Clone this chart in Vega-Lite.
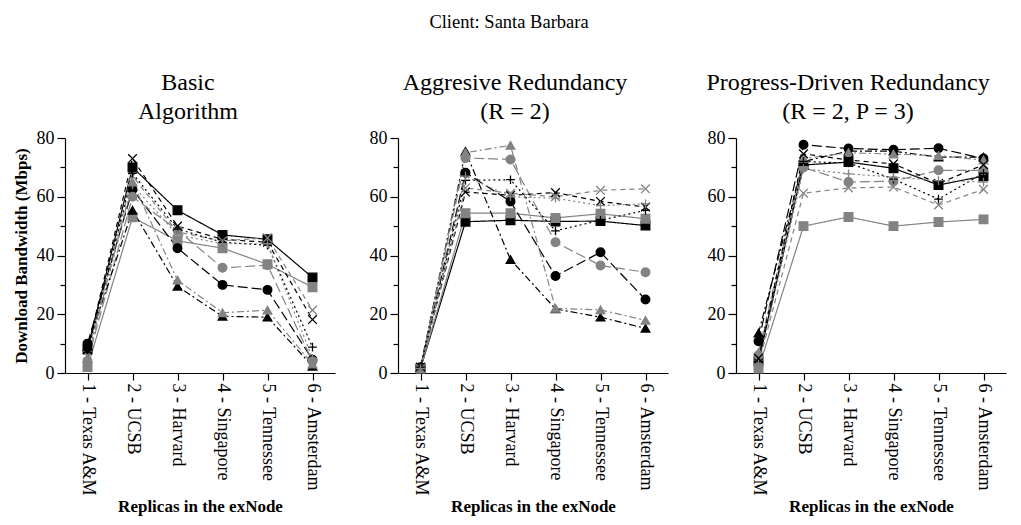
{
"$schema":"https://vega.github.io/schema/vega-lite/v6.json",
"padding":{"left":12,"top":12,"right":5,"bottom":5},
"title":{"text":"Client: Santa Barbara","fontSize":18.5,"font":"Liberation Serif","fontWeight":"normal","anchor":"middle","offset":40,"color":"black"},
"config":{"view":{"stroke":null},"axis":{"domainColor":"black","tickColor":"black","labelColor":"black","titleColor":"black","labelFont":"Liberation Serif","titleFont":"Liberation Serif","grid":false,"domainWidth":1.2,"tickWidth":1.2},"title":{"font":"Liberation Serif","color":"black"}},
"data":{"values":[
{"p":"A","s":"bsq","x":"1 - Texas A&M","y":8},{"p":"A","s":"bsq","x":"2 - UCSB","y":70},{"p":"A","s":"bsq","x":"3 - Harvard","y":55.4},{"p":"A","s":"bsq","x":"4 - Singapore","y":47},{"p":"A","s":"bsq","x":"5 - Tennessee","y":45.5},{"p":"A","s":"bsq","x":"6 - Amsterdam","y":32.5},
{"p":"A","s":"gsq","x":"1 - Texas A&M","y":2},{"p":"A","s":"gsq","x":"2 - UCSB","y":53},{"p":"A","s":"gsq","x":"3 - Harvard","y":45},{"p":"A","s":"gsq","x":"4 - Singapore","y":42.5},{"p":"A","s":"gsq","x":"5 - Tennessee","y":37},{"p":"A","s":"gsq","x":"6 - Amsterdam","y":29.2},
{"p":"A","s":"bci","x":"1 - Texas A&M","y":10},{"p":"A","s":"bci","x":"2 - UCSB","y":62.5},{"p":"A","s":"bci","x":"3 - Harvard","y":42.5},{"p":"A","s":"bci","x":"4 - Singapore","y":30},{"p":"A","s":"bci","x":"5 - Tennessee","y":28.3},{"p":"A","s":"bci","x":"6 - Amsterdam","y":4.5},
{"p":"A","s":"gci","x":"1 - Texas A&M","y":4},{"p":"A","s":"gci","x":"2 - UCSB","y":60},{"p":"A","s":"gci","x":"3 - Harvard","y":48.6},{"p":"A","s":"gci","x":"4 - Singapore","y":35.8},{"p":"A","s":"gci","x":"5 - Tennessee","y":36.7},{"p":"A","s":"gci","x":"6 - Amsterdam","y":4},
{"p":"A","s":"btr","x":"1 - Texas A&M","y":9},{"p":"A","s":"btr","x":"2 - UCSB","y":55.4},{"p":"A","s":"btr","x":"3 - Harvard","y":29.5},{"p":"A","s":"btr","x":"4 - Singapore","y":19.3},{"p":"A","s":"btr","x":"5 - Tennessee","y":19},{"p":"A","s":"btr","x":"6 - Amsterdam","y":2.3},
{"p":"A","s":"gtr","x":"1 - Texas A&M","y":5},{"p":"A","s":"gtr","x":"2 - UCSB","y":65},{"p":"A","s":"gtr","x":"3 - Harvard","y":31.6},{"p":"A","s":"gtr","x":"4 - Singapore","y":20.5},{"p":"A","s":"gtr","x":"5 - Tennessee","y":21.4},{"p":"A","s":"gtr","x":"6 - Amsterdam","y":3},
{"p":"A","s":"bx","x":"1 - Texas A&M","y":8},{"p":"A","s":"bx","x":"2 - UCSB","y":73},{"p":"A","s":"bx","x":"3 - Harvard","y":50},{"p":"A","s":"bx","x":"4 - Singapore","y":45.5},{"p":"A","s":"bx","x":"5 - Tennessee","y":44.5},{"p":"A","s":"bx","x":"6 - Amsterdam","y":18.2},
{"p":"A","s":"gx","x":"1 - Texas A&M","y":6},{"p":"A","s":"gx","x":"2 - UCSB","y":67},{"p":"A","s":"gx","x":"3 - Harvard","y":48},{"p":"A","s":"gx","x":"4 - Singapore","y":45},{"p":"A","s":"gx","x":"5 - Tennessee","y":46},{"p":"A","s":"gx","x":"6 - Amsterdam","y":21.4},
{"p":"A","s":"bp","x":"1 - Texas A&M","y":7},{"p":"A","s":"bp","x":"2 - UCSB","y":68},{"p":"A","s":"bp","x":"3 - Harvard","y":49},{"p":"A","s":"bp","x":"4 - Singapore","y":44.5},{"p":"A","s":"bp","x":"5 - Tennessee","y":43.5},{"p":"A","s":"bp","x":"6 - Amsterdam","y":8.8},
{"p":"A","s":"gp","x":"1 - Texas A&M","y":5},{"p":"A","s":"gp","x":"2 - UCSB","y":64},{"p":"A","s":"gp","x":"3 - Harvard","y":47},{"p":"A","s":"gp","x":"4 - Singapore","y":44},{"p":"A","s":"gp","x":"5 - Tennessee","y":44},{"p":"A","s":"gp","x":"6 - Amsterdam","y":5},
{"p":"B","s":"bsq","x":"1 - Texas A&M","y":1.5},{"p":"B","s":"bsq","x":"2 - UCSB","y":51.5},{"p":"B","s":"bsq","x":"3 - Harvard","y":52},{"p":"B","s":"bsq","x":"4 - Singapore","y":51.6},{"p":"B","s":"bsq","x":"5 - Tennessee","y":51.7},{"p":"B","s":"bsq","x":"6 - Amsterdam","y":50.2},
{"p":"B","s":"gsq","x":"1 - Texas A&M","y":1.5},{"p":"B","s":"gsq","x":"2 - UCSB","y":54.4},{"p":"B","s":"gsq","x":"3 - Harvard","y":54.4},{"p":"B","s":"gsq","x":"4 - Singapore","y":52.8},{"p":"B","s":"gsq","x":"5 - Tennessee","y":54.2},{"p":"B","s":"gsq","x":"6 - Amsterdam","y":52.5},
{"p":"B","s":"bci","x":"1 - Texas A&M","y":2},{"p":"B","s":"bci","x":"2 - UCSB","y":68.2},{"p":"B","s":"bci","x":"3 - Harvard","y":58.4},{"p":"B","s":"bci","x":"4 - Singapore","y":33},{"p":"B","s":"bci","x":"5 - Tennessee","y":41.1},{"p":"B","s":"bci","x":"6 - Amsterdam","y":25},
{"p":"B","s":"gci","x":"1 - Texas A&M","y":1.5},{"p":"B","s":"gci","x":"2 - UCSB","y":73.2},{"p":"B","s":"gci","x":"3 - Harvard","y":72.7},{"p":"B","s":"gci","x":"4 - Singapore","y":44.5},{"p":"B","s":"gci","x":"5 - Tennessee","y":36.6},{"p":"B","s":"gci","x":"6 - Amsterdam","y":34.3},
{"p":"B","s":"btr","x":"1 - Texas A&M","y":2},{"p":"B","s":"btr","x":"2 - UCSB","y":75.5},{"p":"B","s":"btr","x":"3 - Harvard","y":38.6},{"p":"B","s":"btr","x":"4 - Singapore","y":21.8},{"p":"B","s":"btr","x":"5 - Tennessee","y":19},{"p":"B","s":"btr","x":"6 - Amsterdam","y":15.2},
{"p":"B","s":"gtr","x":"1 - Texas A&M","y":1.5},{"p":"B","s":"gtr","x":"2 - UCSB","y":75},{"p":"B","s":"gtr","x":"3 - Harvard","y":77.5},{"p":"B","s":"gtr","x":"4 - Singapore","y":22},{"p":"B","s":"gtr","x":"5 - Tennessee","y":21.5},{"p":"B","s":"gtr","x":"6 - Amsterdam","y":17.9},
{"p":"B","s":"bx","x":"1 - Texas A&M","y":2},{"p":"B","s":"bx","x":"2 - UCSB","y":61.6},{"p":"B","s":"bx","x":"3 - Harvard","y":60.5},{"p":"B","s":"bx","x":"4 - Singapore","y":61.4},{"p":"B","s":"bx","x":"5 - Tennessee","y":58.4},{"p":"B","s":"bx","x":"6 - Amsterdam","y":56.5},
{"p":"B","s":"gx","x":"1 - Texas A&M","y":1.5},{"p":"B","s":"gx","x":"2 - UCSB","y":63},{"p":"B","s":"gx","x":"3 - Harvard","y":61.2},{"p":"B","s":"gx","x":"4 - Singapore","y":60},{"p":"B","s":"gx","x":"5 - Tennessee","y":62.2},{"p":"B","s":"gx","x":"6 - Amsterdam","y":62.7},
{"p":"B","s":"bp","x":"1 - Texas A&M","y":2},{"p":"B","s":"bp","x":"2 - UCSB","y":65.6},{"p":"B","s":"bp","x":"3 - Harvard","y":65.8},{"p":"B","s":"bp","x":"4 - Singapore","y":48.4},{"p":"B","s":"bp","x":"5 - Tennessee","y":52},{"p":"B","s":"bp","x":"6 - Amsterdam","y":55.4},
{"p":"B","s":"gp","x":"1 - Texas A&M","y":1.5},{"p":"B","s":"gp","x":"2 - UCSB","y":67},{"p":"B","s":"gp","x":"3 - Harvard","y":60},{"p":"B","s":"gp","x":"4 - Singapore","y":59.5},{"p":"B","s":"gp","x":"5 - Tennessee","y":57},{"p":"B","s":"gp","x":"6 - Amsterdam","y":57.6},
{"p":"C","s":"bsq","x":"1 - Texas A&M","y":4},{"p":"C","s":"bsq","x":"2 - UCSB","y":70.8},{"p":"C","s":"bsq","x":"3 - Harvard","y":71.8},{"p":"C","s":"bsq","x":"4 - Singapore","y":69.7},{"p":"C","s":"bsq","x":"5 - Tennessee","y":64},{"p":"C","s":"bsq","x":"6 - Amsterdam","y":67},
{"p":"C","s":"gsq","x":"1 - Texas A&M","y":1.5},{"p":"C","s":"gsq","x":"2 - UCSB","y":50},{"p":"C","s":"gsq","x":"3 - Harvard","y":53.1},{"p":"C","s":"gsq","x":"4 - Singapore","y":50},{"p":"C","s":"gsq","x":"5 - Tennessee","y":51.4},{"p":"C","s":"gsq","x":"6 - Amsterdam","y":52.3},
{"p":"C","s":"bci","x":"1 - Texas A&M","y":10.8},{"p":"C","s":"bci","x":"2 - UCSB","y":77.7},{"p":"C","s":"bci","x":"3 - Harvard","y":76.4},{"p":"C","s":"bci","x":"4 - Singapore","y":76},{"p":"C","s":"bci","x":"5 - Tennessee","y":76.5},{"p":"C","s":"bci","x":"6 - Amsterdam","y":73},
{"p":"C","s":"gci","x":"1 - Texas A&M","y":6},{"p":"C","s":"gci","x":"2 - UCSB","y":70},{"p":"C","s":"gci","x":"3 - Harvard","y":65},{"p":"C","s":"gci","x":"4 - Singapore","y":65.3},{"p":"C","s":"gci","x":"5 - Tennessee","y":69},{"p":"C","s":"gci","x":"6 - Amsterdam","y":69},
{"p":"C","s":"btr","x":"1 - Texas A&M","y":13.6},{"p":"C","s":"btr","x":"2 - UCSB","y":72},{"p":"C","s":"btr","x":"3 - Harvard","y":75.5},{"p":"C","s":"btr","x":"4 - Singapore","y":75.5},{"p":"C","s":"btr","x":"5 - Tennessee","y":73.5},{"p":"C","s":"btr","x":"6 - Amsterdam","y":73.5},
{"p":"C","s":"gtr","x":"1 - Texas A&M","y":7},{"p":"C","s":"gtr","x":"2 - UCSB","y":73},{"p":"C","s":"gtr","x":"3 - Harvard","y":75},{"p":"C","s":"gtr","x":"4 - Singapore","y":74.5},{"p":"C","s":"gtr","x":"5 - Tennessee","y":74},{"p":"C","s":"gtr","x":"6 - Amsterdam","y":72.5},
{"p":"C","s":"bx","x":"1 - Texas A&M","y":5},{"p":"C","s":"bx","x":"2 - UCSB","y":74.6},{"p":"C","s":"bx","x":"3 - Harvard","y":72.5},{"p":"C","s":"bx","x":"4 - Singapore","y":71.2},{"p":"C","s":"bx","x":"5 - Tennessee","y":64.5},{"p":"C","s":"bx","x":"6 - Amsterdam","y":70.9},
{"p":"C","s":"gx","x":"1 - Texas A&M","y":3},{"p":"C","s":"gx","x":"2 - UCSB","y":61.2},{"p":"C","s":"gx","x":"3 - Harvard","y":63},{"p":"C","s":"gx","x":"4 - Singapore","y":63.3},{"p":"C","s":"gx","x":"5 - Tennessee","y":57.2},{"p":"C","s":"gx","x":"6 - Amsterdam","y":62.5},
{"p":"C","s":"bp","x":"1 - Texas A&M","y":4},{"p":"C","s":"bp","x":"2 - UCSB","y":72},{"p":"C","s":"bp","x":"3 - Harvard","y":71.5},{"p":"C","s":"bp","x":"4 - Singapore","y":66},{"p":"C","s":"bp","x":"5 - Tennessee","y":59.2},{"p":"C","s":"bp","x":"6 - Amsterdam","y":68},
{"p":"C","s":"gp","x":"1 - Texas A&M","y":3},{"p":"C","s":"gp","x":"2 - UCSB","y":69.5},{"p":"C","s":"gp","x":"3 - Harvard","y":67.8},{"p":"C","s":"gp","x":"4 - Singapore","y":66.7},{"p":"C","s":"gp","x":"5 - Tennessee","y":65.5},{"p":"C","s":"gp","x":"6 - Amsterdam","y":65}
]},
"hconcat":[
{"width":270,"height":235,
"title":{"text":["Basic","Algorithm"],"fontSize":24,"fontWeight":"normal","lineHeight":29,"offset":5,"dx":-12},
"transform":[{"filter":"datum.p === 'A'"}],
"encoding":{
"x":{"field":"x","type":"nominal","sort":null,"scale":{"type":"point","padding":0.5},"axis":{"title":"Replicas in the exNode","titleFontWeight":"bold","titleFontSize":17,"labelAngle":90,"labelFontSize":18,"tickSize":7,"labelPadding":3,"titlePadding":2}},
"y":{"field":"y","type":"quantitative","scale":{"domain":[0,80],"nice":false},"axis":{"title":"Download Bandwidth (Mbps)","titleFontWeight":"bold","titleFontSize":17,"titlePadding":6,"values":[0,10,20,30,40,50,60,70,80],"labelExpr":"datum.value % 20 === 0 ? datum.label : ''","labelFontSize":18,"tickSize":{"condition":{"test":"datum.value % 20 === 0","value":8},"value":5},"labelPadding":3}}
},
"layer":[
{"mark":{"type":"line","strokeWidth":1.2},"encoding":{
"color":{"field":"s","type":"nominal","legend":null,"scale":{"domain":["bsq","gsq","bci","gci","btr","gtr","bx","gx","bp","gp"],"range":["#000000","#838383","#000000","#838383","#000000","#838383","#000000","#838383","#000000","#838383"]}},
"strokeDash":{"field":"s","type":"nominal","legend":null,"scale":{"domain":["bsq","gsq","bci","gci","btr","gtr","bx","gx","bp","gp"],"range":[[1,0],[1,0],[10,4],[10,4],[7,3,2,3],[7,3,2,3],[5,4],[5,4],[2,3],[2,3]]}}}},
{"mark":{"type":"point","filled":true,"size":75,"strokeWidth":1.3,"opacity":1},"encoding":{
"shape":{"field":"s","type":"nominal","legend":null,"scale":{"domain":["bsq","gsq","bci","gci","btr","gtr","bx","gx","bp","gp"],"range":["square","square","circle","circle","triangle-up","triangle-up","M-1,-1L1,1M-1,1L1,-1","M-1,-1L1,1M-1,1L1,-1","M-1,0L1,0M0,-1L0,1","M-1,0L1,0M0,-1L0,1"]}},
"fill":{"field":"s","type":"nominal","legend":null,"scale":{"domain":["bsq","gsq","bci","gci","btr","gtr","bx","gx","bp","gp"],"range":["#000000","#838383","#000000","#838383","#000000","#838383","#000000","#838383","#000000","#838383"]}},
"stroke":{"field":"s","type":"nominal","legend":null,"scale":{"domain":["bsq","gsq","bci","gci","btr","gtr","bx","gx","bp","gp"],"range":["#000000","#838383","#000000","#838383","#000000","#838383","#000000","#838383","#000000","#838383"]}}}}
]},
{"hconcat":[
{"width":270,"height":235,
"title":{"text":["Aggresive Redundancy","(R = 2)"],"fontSize":24,"fontWeight":"normal","lineHeight":29,"offset":5,"dx":-18},
"transform":[{"filter":"datum.p === 'B'"}],
"encoding":{
"x":{"field":"x","type":"nominal","sort":null,"scale":{"type":"point","padding":0.5},"axis":{"title":"Replicas in the exNode","titleFontWeight":"bold","titleFontSize":17,"labelAngle":90,"labelFontSize":18,"tickSize":7,"labelPadding":3,"titlePadding":2}},
"y":{"field":"y","type":"quantitative","scale":{"domain":[0,80],"nice":false},"axis":{"title":null,"values":[0,10,20,30,40,50,60,70,80],"labelExpr":"datum.value % 20 === 0 ? datum.label : ''","labelFontSize":18,"tickSize":{"condition":{"test":"datum.value % 20 === 0","value":8},"value":5},"labelPadding":3}}
},
"layer":[
{"mark":{"type":"line","strokeWidth":1.2},"encoding":{
"color":{"field":"s","type":"nominal","legend":null,"scale":{"domain":["bsq","gsq","bci","gci","btr","gtr","bx","gx","bp","gp"],"range":["#000000","#838383","#000000","#838383","#000000","#838383","#000000","#838383","#000000","#838383"]}},
"strokeDash":{"field":"s","type":"nominal","legend":null,"scale":{"domain":["bsq","gsq","bci","gci","btr","gtr","bx","gx","bp","gp"],"range":[[1,0],[1,0],[10,4],[10,4],[7,3,2,3],[7,3,2,3],[5,4],[5,4],[2,3],[2,3]]}}}},
{"mark":{"type":"point","filled":true,"size":75,"strokeWidth":1.3,"opacity":1},"encoding":{
"shape":{"field":"s","type":"nominal","legend":null,"scale":{"domain":["bsq","gsq","bci","gci","btr","gtr","bx","gx","bp","gp"],"range":["square","square","circle","circle","triangle-up","triangle-up","M-1,-1L1,1M-1,1L1,-1","M-1,-1L1,1M-1,1L1,-1","M-1,0L1,0M0,-1L0,1","M-1,0L1,0M0,-1L0,1"]}},
"fill":{"field":"s","type":"nominal","legend":null,"scale":{"domain":["bsq","gsq","bci","gci","btr","gtr","bx","gx","bp","gp"],"range":["#000000","#838383","#000000","#838383","#000000","#838383","#000000","#838383","#000000","#838383"]}},
"stroke":{"field":"s","type":"nominal","legend":null,"scale":{"domain":["bsq","gsq","bci","gci","btr","gtr","bx","gx","bp","gp"],"range":["#000000","#838383","#000000","#838383","#000000","#838383","#000000","#838383","#000000","#838383"]}}}}
]},
{"width":270,"height":235,
"title":{"text":["Progress-Driven Redundancy","(R = 2, P = 3)"],"fontSize":24,"fontWeight":"normal","lineHeight":29,"offset":5,"dx":-23},
"transform":[{"filter":"datum.p === 'C'"}],
"encoding":{
"x":{"field":"x","type":"nominal","sort":null,"scale":{"type":"point","padding":0.5},"axis":{"title":"Replicas in the exNode","titleFontWeight":"bold","titleFontSize":17,"labelAngle":90,"labelFontSize":18,"tickSize":7,"labelPadding":3,"titlePadding":2}},
"y":{"field":"y","type":"quantitative","scale":{"domain":[0,80],"nice":false},"axis":{"title":null,"values":[0,10,20,30,40,50,60,70,80],"labelExpr":"datum.value % 20 === 0 ? datum.label : ''","labelFontSize":18,"tickSize":{"condition":{"test":"datum.value % 20 === 0","value":8},"value":5},"labelPadding":3}}
},
"layer":[
{"mark":{"type":"line","strokeWidth":1.2},"encoding":{
"color":{"field":"s","type":"nominal","legend":null,"scale":{"domain":["bsq","gsq","bci","gci","btr","gtr","bx","gx","bp","gp"],"range":["#000000","#838383","#000000","#838383","#000000","#838383","#000000","#838383","#000000","#838383"]}},
"strokeDash":{"field":"s","type":"nominal","legend":null,"scale":{"domain":["bsq","gsq","bci","gci","btr","gtr","bx","gx","bp","gp"],"range":[[1,0],[1,0],[10,4],[10,4],[7,3,2,3],[7,3,2,3],[5,4],[5,4],[2,3],[2,3]]}}}},
{"mark":{"type":"point","filled":true,"size":75,"strokeWidth":1.3,"opacity":1},"encoding":{
"shape":{"field":"s","type":"nominal","legend":null,"scale":{"domain":["bsq","gsq","bci","gci","btr","gtr","bx","gx","bp","gp"],"range":["square","square","circle","circle","triangle-up","triangle-up","M-1,-1L1,1M-1,1L1,-1","M-1,-1L1,1M-1,1L1,-1","M-1,0L1,0M0,-1L0,1","M-1,0L1,0M0,-1L0,1"]}},
"fill":{"field":"s","type":"nominal","legend":null,"scale":{"domain":["bsq","gsq","bci","gci","btr","gtr","bx","gx","bp","gp"],"range":["#000000","#838383","#000000","#838383","#000000","#838383","#000000","#838383","#000000","#838383"]}},
"stroke":{"field":"s","type":"nominal","legend":null,"scale":{"domain":["bsq","gsq","bci","gci","btr","gtr","bx","gx","bp","gp"],"range":["#000000","#838383","#000000","#838383","#000000","#838383","#000000","#838383","#000000","#838383"]}}}}
]}
],"spacing":38}
],
"spacing":34
}
